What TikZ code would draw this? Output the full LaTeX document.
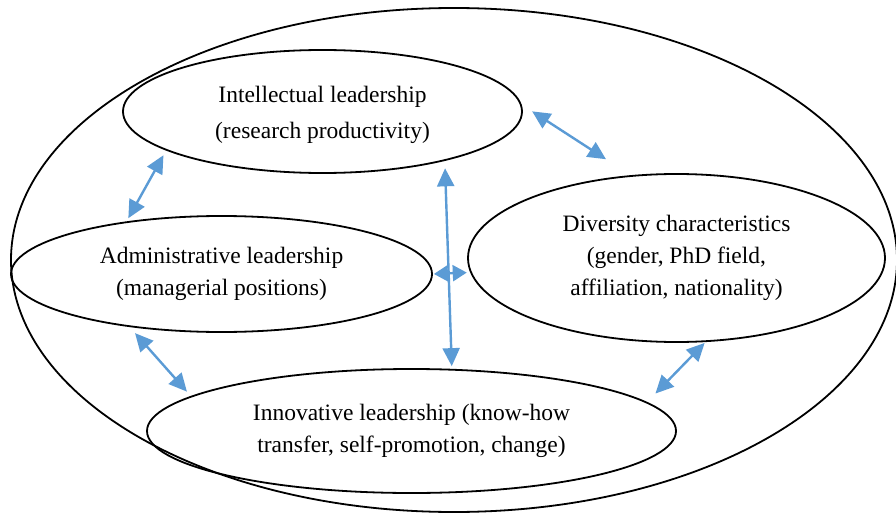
\documentclass[tikz,border=0pt]{standalone}
\usepackage{fontspec}
\setmainfont{Liberation Serif}
\usetikzlibrary{shapes.geometric,arrows.meta}
\definecolor{linkblue}{RGB}{91,155,213}
\begin{document}
\begin{tikzpicture}[x=1pt,y=-1pt,
  oval/.style={draw=black,line width=1.8pt,ellipse,inner sep=0pt,align=center,
    font=\fontsize{23.5}{32}\selectfont},
  biarrow/.style={draw=linkblue,line width=2.4pt,
    {Triangle[length=18pt,width=17pt]}-{Triangle[length=18pt,width=17pt]}},
  shortbiarrow/.style={draw=linkblue,line width=2.4pt,
    {Triangle[length=14pt,width=16pt]}-{Triangle[length=14pt,width=16pt]}}]
\useasboundingbox (0,0) rectangle (896,516);
\node[draw=black,line width=1.8pt,ellipse,inner sep=0pt,minimum width=886pt,minimum height=504pt] (outer) at (454,260) {};
\node[oval,minimum width=399pt,minimum height=123pt] (intel) at (322.5,111.5) {};
\node[align=center,inner sep=0pt,font=\fontsize{23.5}{36}\selectfont] (inteltext) at ([yshift=-3pt]intel.center)
  {Intellectual leadership\\(research productivity)};
\node[oval,minimum width=421pt,minimum height=116pt] (admin) at (221.5,274)
  {Administrative leadership\\(managerial positions)};
\node[oval,minimum width=417pt,minimum height=168pt] (div) at (676.5,258)
  {Diversity characteristics\\(gender, PhD field,\\affiliation, nationality)};
\node[oval,minimum width=529pt,minimum height=124pt] (innov) at (411.5,431)
  {Innovative leadership (know-how\\transfer, self-promotion, change)};
\draw[biarrow,shorten <=5.4pt,shorten >=3.6pt] (intel.194.1) -- (admin.151.2);
\draw[biarrow,shorten <=8.1pt,shorten >=5.9pt] (admin.210.7) -- (innov.171.5);
\draw[biarrow,shorten <=12.5pt,shorten >=29.3pt] (intel.2.1) -- (div.119.3);
\draw[biarrow,shorten <=1.2pt,shorten >=11.9pt] (div.289.4) -- (innov.7.3);
\draw[biarrow,shorten <=7.4pt,shorten >=2.7pt] (intel.338.9) -- (innov.57.9);
\draw[shortbiarrow,shorten <=1pt,shorten >=3.4pt] (admin.0) -- (div.184.2);
\end{tikzpicture}
\end{document}
